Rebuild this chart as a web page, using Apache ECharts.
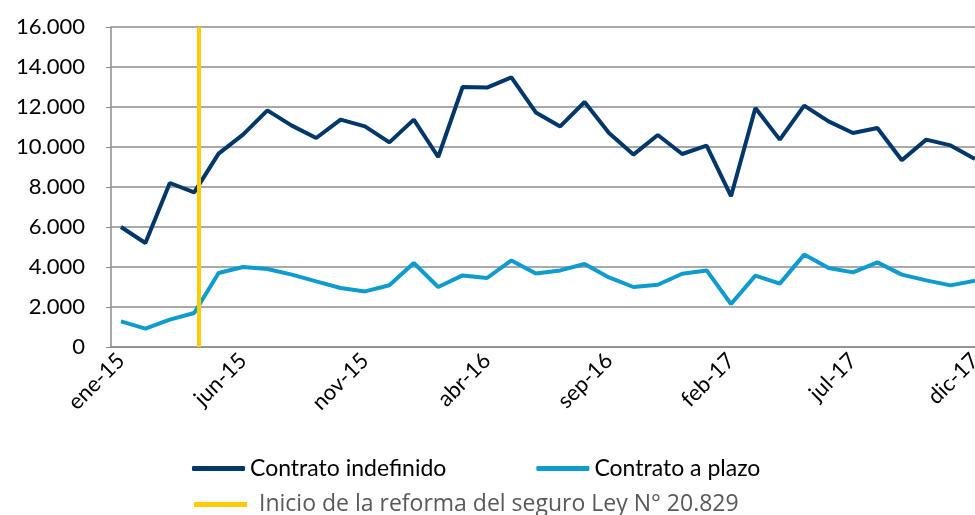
<!DOCTYPE html>
<html>
<head>
<meta charset="utf-8">
<script src="https://cdn.jsdelivr.net/npm/echarts@6/dist/echarts.min.js"></script>
<style>
  html, body { margin: 0; padding: 0; background: #fff; }
  #chart { width: 975px; height: 515px; }
</style>
</head>
<body>
<div id="chart"></div>
<script>
var meses = ['ene', 'feb', 'mar', 'abr', 'may', 'jun', 'jul', 'ago', 'sep', 'oct', 'nov', 'dic'];
var anios = ['15', '16', '17'];
var categorias = [];
anios.forEach(function (a) {
    meses.forEach(function (m) { categorias.push(m + '-' + a); });
});

// contratos, por mes
var indefinido = [6000, 5200, 8200, 7730, 9670, 10620, 11830, 11070, 10450, 11370, 11030, 10230,
    11370, 9500, 13000, 12970, 13480, 11730, 11030, 12250, 10700, 9620, 10600, 9650,
    10070, 7540, 11950, 10370, 12070, 11280, 10700, 10950, 9340, 10370, 10080, 9400];
var plazo = [1280, 920, 1370, 1700, 3700, 4000, 3900, 3620, 3280, 2950, 2780, 3090,
    4200, 3000, 3580, 3450, 4330, 3670, 3830, 4150, 3480, 3000, 3110, 3660,
    3830, 2150, 3570, 3170, 4620, 3950, 3730, 4230, 3620, 3330, 3080, 3310];

// etiquetas visibles del eje x (cada 5 meses)
var etiquetasX = ['ene-15', 'jun-15', 'nov-15', 'abr-16', 'sep-16', 'feb-17', 'jul-17', 'dic-17'];

var inicioReforma = 'abr-15';
var nombreReforma = 'Inicio de la reforma del seguro Ley N° 20.829';

var fuente = 'Lato';
var chart = echarts.init(document.getElementById('chart'));

function miles(v) {
    return String(v).replace(/\B(?=(\d{3})+(?!\d))/g, '.');
}
function pares(serie) {
    return serie.map(function (v, i) { return [i, v]; });
}
var posEtiquetas = etiquetasX.map(function (c) { return categorias.indexOf(c); });

chart.setOption({
    animation: false,
    textStyle: { fontFamily: fuente },
    grid: { left: 111, right: 0, top: 27, bottom: 168, containLabel: false, outerBoundsMode: 'none' },
    legend: [{
        left: 187, top: 452,
        itemWidth: 53, itemHeight: 5, itemGap: 90,
        textStyle: { fontSize: 23, color: '#000', fontFamily: fuente },
        data: [
            { name: 'Contrato indefinido', icon: 'roundRect' },
            { name: 'Contrato a plazo', icon: 'roundRect' }
        ]
    }, {
        left: 189, top: 488,
        itemWidth: 53, itemHeight: 5,
        textStyle: { fontSize: 23, color: '#595959', fontFamily: 'Open Sans', padding: [0, 0, 0, 7] },
        data: [{ name: nombreReforma, icon: 'rect' }]
    }],
    xAxis: {
        type: 'value',
        min: -0.41,
        max: categorias.length - 1,
        splitLine: { show: false },
        axisLine: { show: true, lineStyle: { color: '#8c8c8c', width: 1.5 } },
        axisTick: { show: false },
        axisLabel: {
            customValues: posEtiquetas,
            rotate: 45,
            margin: 10,
            fontSize: 22,
            color: '#000',
            fontFamily: fuente,
            formatter: function (v) { return categorias[Math.round(v)]; }
        }
    },
    yAxis: {
        type: 'value',
        min: 0, max: 16000, interval: 2000,
        axisLine: { show: true, onZero: false, lineStyle: { color: '#8c8c8c', width: 1.5 } },
        splitLine: { lineStyle: { color: '#8c8c8c', width: 1.5 } },
        axisLabel: {
            fontSize: 22,
            color: '#000',
            margin: 26,
            fontFamily: fuente,
            formatter: miles
        }
    },
    series: [{
        name: 'Contrato indefinido',
        type: 'line',
        data: pares(indefinido),
        symbol: 'none',
        color: '#00376b',
        lineStyle: { width: 4, color: '#00376b' },
        z: 3
    }, {
        name: 'Contrato a plazo',
        type: 'line',
        data: pares(plazo),
        symbol: 'none',
        color: '#0e9bce',
        lineStyle: { width: 4, color: '#0e9bce' },
        z: 3
    }, {
        name: nombreReforma,
        type: 'line',
        data: [],
        symbol: 'none',
        color: '#ffcc00',
        lineStyle: { width: 4, color: '#ffcc00' },
        markLine: {
            silent: true,
            symbol: 'none',
            label: { show: false },
            lineStyle: { color: '#ffcc00', width: 4, type: 'solid' },
            data: [{ xAxis: categorias.indexOf(inicioReforma) + 0.2 }]
        },
        z: 4
    }]
});
</script>
</body>
</html>
